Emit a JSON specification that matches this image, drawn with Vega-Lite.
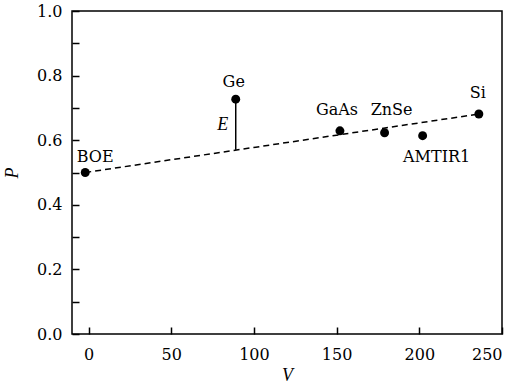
{
  "$schema": "https://vega.github.io/schema/vega-lite/v6.json",
  "width": 430,
  "height": 323,
  "autosize": "none",
  "padding": {"left": 72, "top": 11, "right": 15, "bottom": 53},
  "background": "white",
  "config": {
    "font": "DejaVu Serif",
    "view": {"stroke": "black", "strokeWidth": 1.5},
    "axis": {
      "domain": false,
      "grid": false,
      "tickColor": "black",
      "tickWidth": 1.5,
      "tickSize": -7,
      "labelFont": "DejaVu Serif",
      "labelFontSize": 16,
      "labelColor": "black",
      "titleFont": "Liberation Serif",
      "titleFontSize": 18,
      "titleFontStyle": "italic",
      "titleFontWeight": "normal",
      "titleColor": "black"
    },
    "text": {"font": "DejaVu Serif", "fontSize": 16, "color": "black"}
  },
  "datasets": {
    "pts": [
      {"name": "BOE", "V": -2, "P": 0.50},
      {"name": "Ge", "V": 89, "P": 0.727},
      {"name": "GaAs", "V": 152, "P": 0.629},
      {"name": "ZnSe", "V": 179, "P": 0.623},
      {"name": "AMTIR1", "V": 202, "P": 0.614},
      {"name": "Si", "V": 236, "P": 0.681}
    ],
    "fit": [
      {"V": -2, "P": 0.50},
      {"V": 236, "P": 0.681}
    ],
    "e": [
      {"V": 89, "P": 0.727, "P2": 0.570, "label": "E"}
    ]
  },
  "encoding": {
    "x": {
      "field": "V", "type": "quantitative",
      "scale": {"domain": [-10, 250], "nice": false, "zero": false},
      "axis": {"values": [0, 50, 100, 150, 200, 250], "title": "V", "labelPadding": 19, "titlePadding": 4}
    },
    "y": {
      "field": "P", "type": "quantitative",
      "scale": {"domain": [0, 1], "nice": false},
      "axis": {
        "values": [0, 0.1, 0.2, 0.3, 0.4, 0.5, 0.6, 0.7, 0.8, 0.9, 1.0],
        "labelExpr": "round(datum.value*10)%2==0 ? format(datum.value,'.1f') : ''",
        "title": "P", "labelPadding": 17, "titlePadding": 15
      }
    }
  },
  "layer": [
    {
      "data": {"name": "fit"},
      "mark": {"type": "line", "color": "black", "strokeWidth": 1.5, "strokeDash": [6, 4]}
    },
    {
      "data": {"name": "e"},
      "mark": {"type": "rule", "color": "black", "strokeWidth": 1.5},
      "encoding": {"y2": {"field": "P2"}}
    },
    {
      "data": {"name": "e"},
      "mark": {"type": "text", "font": "Liberation Serif", "fontSize": 18, "fontStyle": "italic", "dx": -13, "dy": 26, "baseline": "middle", "align": "center"},
      "encoding": {"text": {"field": "label"}}
    },
    {
      "data": {"name": "pts"},
      "mark": {"type": "point", "filled": true, "shape": "circle", "size": 80, "color": "black", "opacity": 1}
    },
    {
      "data": {"name": "pts"},
      "transform": [{"filter": "datum.name=='BOE'"}],
      "mark": {"type": "text", "dx": 10, "dy": -11, "baseline": "alphabetic", "align": "center"},
      "encoding": {"text": {"field": "name"}}
    },
    {
      "data": {"name": "pts"},
      "transform": [{"filter": "datum.name=='Ge'"}],
      "mark": {"type": "text", "dx": -2, "dy": -12, "baseline": "alphabetic", "align": "center"},
      "encoding": {"text": {"field": "name"}}
    },
    {
      "data": {"name": "pts"},
      "transform": [{"filter": "datum.name=='GaAs'"}],
      "mark": {"type": "text", "dx": -3, "dy": -16, "baseline": "alphabetic", "align": "center"},
      "encoding": {"text": {"field": "name"}}
    },
    {
      "data": {"name": "pts"},
      "transform": [{"filter": "datum.name=='ZnSe'"}],
      "mark": {"type": "text", "dx": 7, "dy": -18, "baseline": "alphabetic", "align": "center"},
      "encoding": {"text": {"field": "name"}}
    },
    {
      "data": {"name": "pts"},
      "transform": [{"filter": "datum.name=='AMTIR1'"}],
      "mark": {"type": "text", "dx": 14, "dy": 26, "baseline": "alphabetic", "align": "center"},
      "encoding": {"text": {"field": "name"}}
    },
    {
      "data": {"name": "pts"},
      "transform": [{"filter": "datum.name=='Si'"}],
      "mark": {"type": "text", "dx": -1, "dy": -16, "baseline": "alphabetic", "align": "center"},
      "encoding": {"text": {"field": "name"}}
    }
  ]
}
